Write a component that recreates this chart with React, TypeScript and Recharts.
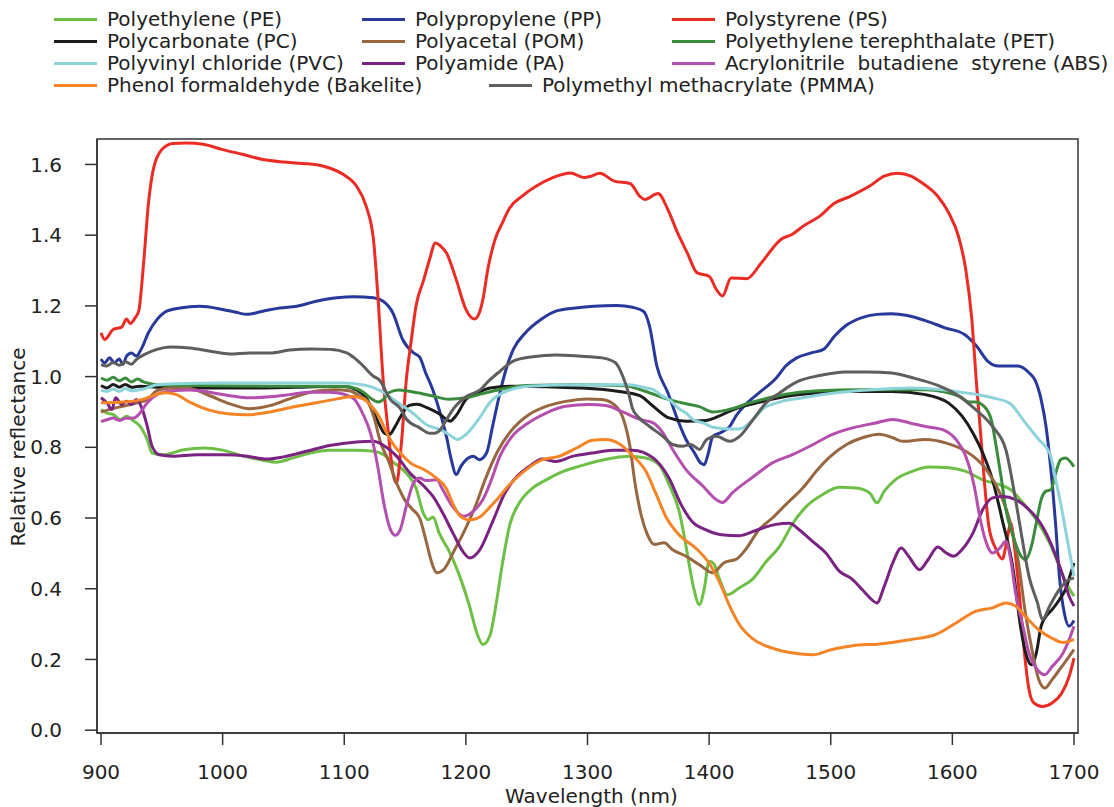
import React from 'react';
import { LineChart, Line, XAxis, YAxis, ReferenceArea, Label } from 'recharts';

type Pt = [number, number];

const wavelengthTicks = [900, 1000, 1100, 1200, 1300, 1400, 1500, 1600, 1700];
const reflectanceTicks = [0, 0.2, 0.4, 0.6, 0.8, 1.0, 1.2, 1.4, 1.6];

// [wavelength nm, relative reflectance]
const polyethylene: Pt[] = [
  [900, 0.907], [905, 0.897], [910, 0.893], [916, 0.878], [921, 0.888], [927, 0.874], [932, 0.86], [938, 0.822],
  [942, 0.784], [951, 0.779], [968, 0.793], [984, 0.798], [1000, 0.792], [1017, 0.775], [1034, 0.763], [1044, 0.758],
  [1058, 0.77], [1072, 0.784], [1088, 0.792], [1110, 0.792], [1124, 0.789], [1132, 0.78], [1140, 0.758], [1151, 0.727],
  [1159, 0.685], [1165, 0.614], [1169, 0.595], [1173, 0.603], [1178, 0.558], [1187, 0.501], [1195, 0.435], [1203, 0.351],
  [1209, 0.275], [1214, 0.242], [1220, 0.27], [1225, 0.36], [1230, 0.47], [1236, 0.58], [1244, 0.643], [1255, 0.685],
  [1266, 0.708], [1280, 0.732], [1293, 0.746], [1307, 0.76], [1321, 0.77], [1334, 0.775], [1348, 0.77], [1359, 0.75],
  [1367, 0.695], [1376, 0.61], [1381, 0.52], [1387, 0.407], [1392, 0.355], [1396, 0.4], [1400, 0.478], [1404, 0.47],
  [1408, 0.432], [1415, 0.383], [1425, 0.403], [1436, 0.428], [1447, 0.477], [1458, 0.52], [1469, 0.586], [1480, 0.633],
  [1493, 0.666], [1507, 0.687], [1521, 0.685], [1532, 0.671], [1538, 0.643], [1544, 0.676], [1553, 0.708], [1567, 0.732],
  [1581, 0.744], [1597, 0.742], [1611, 0.732], [1625, 0.708], [1639, 0.694], [1648, 0.68], [1658, 0.643], [1669, 0.595],
  [1680, 0.529], [1688, 0.463], [1695, 0.407], [1700, 0.379],
];

const polypropylene: Pt[] = [
  [900, 1.05], [903, 1.039], [907, 1.053], [911, 1.039], [915, 1.05], [918, 1.034], [921, 1.058], [925, 1.067],
  [929, 1.058], [933, 1.077], [939, 1.124], [946, 1.161], [954, 1.185], [965, 1.194], [981, 1.199], [1000, 1.19],
  [1011, 1.182], [1020, 1.176], [1033, 1.185], [1047, 1.194], [1061, 1.199], [1077, 1.213], [1094, 1.223], [1108, 1.226],
  [1124, 1.223], [1132, 1.213], [1140, 1.18], [1148, 1.105], [1157, 1.067], [1162, 1.055], [1167, 1.01], [1172, 0.97],
  [1178, 0.907], [1184, 0.831], [1188, 0.765], [1192, 0.723], [1196, 0.747], [1202, 0.77], [1206, 0.775], [1211, 0.765],
  [1217, 0.784], [1222, 0.86], [1228, 0.954], [1233, 1.02], [1239, 1.077], [1249, 1.124], [1262, 1.162], [1274, 1.185],
  [1290, 1.194], [1305, 1.199], [1324, 1.201], [1337, 1.196], [1346, 1.185], [1351, 1.143], [1357, 1.03], [1366, 0.955],
  [1375, 0.87], [1381, 0.822], [1388, 0.784], [1393, 0.756], [1396, 0.751], [1399, 0.779], [1403, 0.831], [1409, 0.841],
  [1417, 0.859], [1422, 0.888], [1430, 0.921], [1441, 0.954], [1455, 0.995], [1463, 1.03], [1472, 1.053], [1484, 1.067],
  [1494, 1.077], [1503, 1.114], [1512, 1.143], [1525, 1.166], [1538, 1.176], [1550, 1.178], [1563, 1.173], [1579, 1.157],
  [1594, 1.138], [1610, 1.119], [1620, 1.086], [1629, 1.044], [1638, 1.03], [1654, 1.03], [1663, 1.011], [1668, 0.99],
  [1673, 0.935], [1677, 0.859], [1681, 0.737], [1685, 0.577], [1688, 0.435], [1692, 0.332], [1696, 0.294], [1700, 0.31],
];

const polystyrene: Pt[] = [
  [900, 1.124], [903, 1.105], [910, 1.133], [917, 1.14], [921, 1.163], [924, 1.15], [928, 1.166], [931, 1.185],
  [935, 1.32], [939, 1.49], [943, 1.586], [950, 1.642], [959, 1.659], [970, 1.661], [984, 1.657], [1000, 1.642],
  [1017, 1.628], [1033, 1.614], [1050, 1.607], [1066, 1.603], [1083, 1.595], [1099, 1.572], [1110, 1.539], [1118, 1.482],
  [1124, 1.388], [1128, 1.21], [1132, 0.99], [1136, 0.85], [1140, 0.727], [1143, 0.699], [1147, 0.812], [1151, 0.99],
  [1155, 1.1], [1159, 1.2], [1165, 1.27], [1170, 1.33], [1175, 1.378], [1179, 1.37], [1184, 1.35], [1192, 1.275],
  [1200, 1.19], [1207, 1.163], [1211, 1.18], [1214, 1.218], [1218, 1.303], [1224, 1.388], [1230, 1.435], [1236, 1.477],
  [1246, 1.51], [1258, 1.539], [1271, 1.562], [1286, 1.576], [1297, 1.563], [1303, 1.567], [1310, 1.575], [1322, 1.553],
  [1335, 1.546], [1343, 1.51], [1347, 1.501], [1358, 1.518], [1366, 1.473], [1374, 1.407], [1382, 1.35], [1390, 1.294],
  [1400, 1.284], [1406, 1.246], [1411, 1.228], [1418, 1.279], [1431, 1.277], [1443, 1.322], [1459, 1.388], [1468, 1.402],
  [1478, 1.427], [1491, 1.454], [1503, 1.49], [1516, 1.51], [1532, 1.539], [1544, 1.567], [1555, 1.575], [1566, 1.567],
  [1575, 1.548], [1588, 1.51], [1597, 1.463], [1605, 1.397], [1611, 1.303], [1616, 1.162], [1620, 0.973], [1623, 0.85],
  [1626, 0.718], [1630, 0.577], [1636, 0.511], [1641, 0.484], [1645, 0.539], [1648, 0.586], [1651, 0.52], [1655, 0.388],
  [1659, 0.228], [1663, 0.115], [1667, 0.077], [1674, 0.067], [1682, 0.077], [1690, 0.105], [1696, 0.152], [1700, 0.204],
];

const polycarbonate: Pt[] = [
  [900, 0.975], [905, 0.968], [910, 0.978], [915, 0.97], [920, 0.978], [925, 0.97], [932, 0.973], [946, 0.97],
  [970, 0.968], [1000, 0.968], [1030, 0.968], [1060, 0.97], [1090, 0.972], [1100, 0.972], [1110, 0.962], [1118, 0.94],
  [1124, 0.9], [1128, 0.87], [1133, 0.84], [1137, 0.836], [1142, 0.86], [1146, 0.885], [1153, 0.918], [1160, 0.922],
  [1168, 0.912], [1178, 0.895], [1187, 0.874], [1192, 0.89], [1200, 0.935], [1210, 0.955], [1220, 0.968], [1239, 0.973],
  [1293, 0.968], [1326, 0.958], [1343, 0.946], [1354, 0.916], [1367, 0.883], [1381, 0.874], [1397, 0.876], [1408, 0.888],
  [1420, 0.907], [1442, 0.928], [1465, 0.945], [1490, 0.954], [1510, 0.958], [1550, 0.958], [1578, 0.949], [1597, 0.925],
  [1608, 0.888], [1617, 0.84], [1625, 0.784], [1633, 0.708], [1641, 0.595], [1650, 0.454], [1656, 0.294], [1662, 0.2],
  [1665, 0.185], [1669, 0.218], [1673, 0.294], [1677, 0.322], [1682, 0.341], [1688, 0.369], [1693, 0.398], [1697, 0.44],
  [1700, 0.473],
];

const polyacetal: Pt[] = [
  [900, 0.9], [910, 0.91], [918, 0.916], [929, 0.925], [938, 0.935], [946, 0.96], [957, 0.968], [973, 0.966],
  [988, 0.948], [1006, 0.923], [1022, 0.909], [1039, 0.918], [1055, 0.937], [1075, 0.958], [1092, 0.963], [1105, 0.959],
  [1113, 0.944], [1118, 0.935], [1124, 0.89], [1130, 0.812], [1136, 0.765], [1143, 0.699], [1150, 0.65], [1156, 0.625],
  [1162, 0.6], [1167, 0.539], [1172, 0.473], [1176, 0.445], [1182, 0.455], [1190, 0.505], [1199, 0.565], [1208, 0.635],
  [1216, 0.71], [1226, 0.788], [1238, 0.85], [1252, 0.893], [1266, 0.916], [1282, 0.93], [1299, 0.937], [1312, 0.935],
  [1324, 0.914], [1330, 0.875], [1335, 0.8], [1339, 0.7], [1344, 0.61], [1349, 0.555], [1355, 0.525], [1363, 0.53],
  [1370, 0.51], [1381, 0.492], [1392, 0.468], [1403, 0.445], [1412, 0.473], [1423, 0.485], [1430, 0.511], [1441, 0.567],
  [1452, 0.6], [1463, 0.638], [1477, 0.685], [1490, 0.74], [1500, 0.775], [1513, 0.808], [1526, 0.827], [1540, 0.837],
  [1551, 0.827], [1559, 0.817], [1578, 0.822], [1595, 0.812], [1606, 0.798], [1617, 0.775], [1628, 0.737], [1639, 0.671],
  [1647, 0.595], [1654, 0.482], [1660, 0.332], [1666, 0.218], [1671, 0.143], [1676, 0.119], [1682, 0.143], [1690, 0.18],
  [1700, 0.228],
];

const polyethyleneTerephthalate: Pt[] = [
  [900, 0.996], [905, 0.99], [910, 0.998], [915, 0.988], [920, 0.996], [925, 0.985], [930, 0.993], [935, 0.985],
  [938, 0.982], [946, 0.977], [980, 0.975], [1040, 0.973], [1100, 0.972], [1110, 0.966], [1116, 0.955], [1122, 0.938],
  [1128, 0.928], [1132, 0.935], [1137, 0.955], [1145, 0.962], [1159, 0.955], [1173, 0.945], [1186, 0.936], [1200, 0.94],
  [1214, 0.952], [1227, 0.963], [1250, 0.975], [1293, 0.977], [1330, 0.974], [1348, 0.958], [1365, 0.937], [1381, 0.923],
  [1392, 0.915], [1403, 0.9], [1414, 0.905], [1436, 0.928], [1463, 0.95], [1490, 0.96], [1523, 0.963], [1578, 0.963],
  [1606, 0.944], [1614, 0.928], [1619, 0.928], [1626, 0.916], [1632, 0.878], [1636, 0.803], [1640, 0.718], [1644, 0.624],
  [1650, 0.548], [1655, 0.501], [1660, 0.482], [1665, 0.52], [1669, 0.586], [1673, 0.652], [1677, 0.676], [1681, 0.68],
  [1685, 0.728], [1689, 0.765], [1693, 0.77], [1700, 0.745],
];

const polyvinylChloride: Pt[] = [
  [900, 0.961], [905, 0.958], [910, 0.965], [915, 0.958], [920, 0.966], [925, 0.96], [935, 0.965], [946, 0.977],
  [960, 0.98], [1000, 0.982], [1050, 0.982], [1100, 0.982], [1118, 0.975], [1130, 0.96], [1137, 0.944], [1146, 0.922],
  [1157, 0.895], [1168, 0.863], [1179, 0.85], [1187, 0.834], [1193, 0.822], [1200, 0.836], [1211, 0.882], [1220, 0.928],
  [1233, 0.958], [1252, 0.973], [1293, 0.977], [1334, 0.977], [1348, 0.968], [1354, 0.963], [1362, 0.944], [1367, 0.935],
  [1376, 0.907], [1381, 0.897], [1387, 0.878], [1395, 0.869], [1403, 0.857], [1417, 0.852], [1425, 0.852], [1436, 0.878],
  [1444, 0.908], [1458, 0.928], [1477, 0.94], [1500, 0.952], [1530, 0.962], [1565, 0.968], [1592, 0.963], [1611, 0.954],
  [1633, 0.94], [1647, 0.925], [1660, 0.869], [1671, 0.822], [1680, 0.784], [1685, 0.708], [1690, 0.624], [1695, 0.529],
  [1700, 0.435],
];

const polyamide: Pt[] = [
  [900, 0.94], [905, 0.925], [909, 0.907], [912, 0.94], [917, 0.921], [921, 0.93], [925, 0.921], [929, 0.935],
  [934, 0.907], [938, 0.86], [942, 0.803], [948, 0.779], [959, 0.775], [979, 0.779], [1001, 0.779], [1020, 0.775],
  [1036, 0.767], [1050, 0.773], [1069, 0.789], [1088, 0.805], [1110, 0.815], [1124, 0.817], [1132, 0.806], [1143, 0.775],
  [1154, 0.727], [1165, 0.692], [1173, 0.661], [1181, 0.614], [1190, 0.553], [1198, 0.503], [1203, 0.487], [1211, 0.508],
  [1222, 0.59], [1232, 0.67], [1240, 0.71], [1252, 0.746], [1263, 0.767], [1274, 0.76], [1288, 0.775], [1304, 0.784],
  [1321, 0.792], [1337, 0.792], [1354, 0.77], [1367, 0.713], [1377, 0.638], [1386, 0.59], [1397, 0.567], [1410, 0.553],
  [1425, 0.55], [1440, 0.567], [1455, 0.582], [1466, 0.585], [1474, 0.567], [1485, 0.534], [1496, 0.501], [1507, 0.45],
  [1518, 0.426], [1526, 0.397], [1532, 0.375], [1538, 0.36], [1544, 0.407], [1551, 0.473], [1558, 0.515], [1564, 0.492],
  [1573, 0.454], [1580, 0.482], [1588, 0.518], [1595, 0.501], [1601, 0.492], [1608, 0.511], [1617, 0.558], [1625, 0.624],
  [1633, 0.657], [1641, 0.661], [1652, 0.652], [1663, 0.624], [1674, 0.577], [1682, 0.52], [1691, 0.435], [1696, 0.379],
  [1700, 0.351],
];

const acrylonitrileButadieneStyrene: Pt[] = [
  [900, 0.873], [905, 0.878], [910, 0.883], [915, 0.876], [920, 0.882], [927, 0.883], [932, 0.897], [938, 0.926],
  [946, 0.949], [957, 0.959], [973, 0.962], [989, 0.956], [1006, 0.946], [1022, 0.94], [1039, 0.943], [1055, 0.949],
  [1072, 0.956], [1088, 0.956], [1100, 0.95], [1108, 0.937], [1115, 0.897], [1122, 0.835], [1128, 0.737], [1132, 0.652],
  [1138, 0.567], [1142, 0.551], [1146, 0.567], [1151, 0.633], [1157, 0.699], [1162, 0.713], [1167, 0.706], [1176, 0.708],
  [1181, 0.68], [1189, 0.633], [1198, 0.605], [1206, 0.619], [1214, 0.652], [1220, 0.699], [1228, 0.775], [1238, 0.831],
  [1250, 0.866], [1266, 0.897], [1282, 0.916], [1301, 0.921], [1315, 0.918], [1329, 0.9], [1343, 0.879], [1354, 0.869],
  [1362, 0.841], [1370, 0.794], [1381, 0.737], [1395, 0.69], [1406, 0.652], [1411, 0.644], [1419, 0.671], [1436, 0.716],
  [1452, 0.756], [1469, 0.78], [1485, 0.807], [1501, 0.836], [1518, 0.855], [1537, 0.869], [1551, 0.879], [1565, 0.869],
  [1578, 0.859], [1592, 0.85], [1603, 0.822], [1611, 0.775], [1618, 0.69], [1623, 0.595], [1629, 0.52], [1633, 0.501],
  [1639, 0.515], [1644, 0.534], [1648, 0.482], [1652, 0.388], [1658, 0.294], [1663, 0.218], [1670, 0.171], [1676, 0.157],
  [1682, 0.18], [1691, 0.218], [1696, 0.256], [1700, 0.294],
];

const phenolFormaldehyde: Pt[] = [
  [900, 0.926], [918, 0.928], [929, 0.932], [938, 0.94], [946, 0.95], [954, 0.954], [962, 0.949], [973, 0.928],
  [989, 0.905], [1006, 0.894], [1020, 0.892], [1039, 0.9], [1055, 0.912], [1077, 0.926], [1094, 0.937], [1107, 0.944],
  [1115, 0.938], [1122, 0.918], [1129, 0.885], [1135, 0.84], [1140, 0.81], [1148, 0.777], [1156, 0.752], [1164, 0.74],
  [1175, 0.715], [1184, 0.683], [1189, 0.643], [1195, 0.607], [1203, 0.595], [1211, 0.602], [1219, 0.628], [1225, 0.65],
  [1236, 0.695], [1247, 0.73], [1261, 0.762], [1277, 0.775], [1291, 0.798], [1304, 0.82], [1315, 0.822], [1326, 0.81],
  [1337, 0.777], [1348, 0.732], [1356, 0.671], [1365, 0.6], [1376, 0.55], [1389, 0.515], [1400, 0.472], [1409, 0.415],
  [1417, 0.35], [1425, 0.298], [1436, 0.258], [1452, 0.232], [1469, 0.218], [1485, 0.213], [1501, 0.228], [1518, 0.239],
  [1540, 0.244], [1565, 0.256], [1586, 0.27], [1603, 0.303], [1619, 0.336], [1633, 0.346], [1644, 0.36], [1652, 0.351],
  [1660, 0.322], [1671, 0.284], [1682, 0.26], [1691, 0.248], [1700, 0.257],
];

const polymethylMethacrylate: Pt[] = [
  [900, 1.034], [905, 1.03], [910, 1.04], [915, 1.032], [920, 1.042], [925, 1.035], [929, 1.048], [936, 1.063],
  [946, 1.077], [957, 1.084], [973, 1.081], [990, 1.072], [1006, 1.064], [1022, 1.067], [1039, 1.067], [1055, 1.075],
  [1072, 1.078], [1088, 1.077], [1102, 1.067], [1113, 1.039], [1124, 1.001], [1129, 0.99], [1138, 0.935], [1146, 0.91],
  [1151, 0.88], [1162, 0.855], [1170, 0.84], [1174, 0.84], [1179, 0.85], [1184, 0.878], [1190, 0.91], [1201, 0.945],
  [1212, 0.963], [1218, 0.985], [1228, 1.015], [1239, 1.044], [1255, 1.056], [1274, 1.061], [1293, 1.058], [1312, 1.053],
  [1323, 1.039], [1329, 1.001], [1334, 0.95], [1337, 0.91], [1342, 0.885], [1351, 0.859], [1362, 0.831], [1370, 0.808],
  [1378, 0.803], [1385, 0.808], [1392, 0.794], [1398, 0.822], [1406, 0.831], [1417, 0.817], [1425, 0.831], [1436, 0.878],
  [1447, 0.926], [1458, 0.954], [1472, 0.985], [1491, 1.003], [1512, 1.013], [1531, 1.013], [1550, 1.01], [1569, 0.995],
  [1588, 0.975], [1604, 0.948], [1619, 0.907], [1633, 0.859], [1644, 0.793], [1651, 0.671], [1658, 0.529], [1663, 0.435],
  [1670, 0.36], [1674, 0.313], [1680, 0.351], [1688, 0.398], [1696, 0.426], [1700, 0.43],
];

const series = [
  { key: 'PE', name: 'Polyethylene (PE)', color: '#6dbf45', points: polyethylene },
  { key: 'PP', name: 'Polypropylene (PP)', color: '#27399a', points: polypropylene },
  { key: 'PS', name: 'Polystyrene (PS)', color: '#ec2b24', points: polystyrene },
  { key: 'PC', name: 'Polycarbonate (PC)', color: '#1c1c1c', points: polycarbonate },
  { key: 'POM', name: 'Polyacetal (POM)', color: '#98673f', points: polyacetal },
  { key: 'PET', name: 'Polyethylene terephthalate (PET)', color: '#3b8b3d', points: polyethyleneTerephthalate },
  { key: 'PVC', name: 'Polyvinyl chloride (PVC)', color: '#8dd3da', points: polyvinylChloride },
  { key: 'PA', name: 'Polyamide (PA)', color: '#7b2382', points: polyamide },
  { key: 'ABS', name: 'Acrylonitrile  butadiene  styrene (ABS)', color: '#b54fae', points: acrylonitrileButadieneStyrene },
  { key: 'BAK', name: 'Phenol formaldehyde (Bakelite)', color: '#f58426', points: phenolFormaldehyde },
  { key: 'PMMA', name: 'Polymethyl methacrylate (PMMA)', color: '#5e5e5e', points: polymethylMethacrylate },
];

// legend slot (line start x, row centre y) for each series, in legend order
const legendSlots = [
  [54, 19], [362, 19], [672, 19],
  [54, 41], [362, 41], [672, 41],
  [54, 63], [362, 63], [672, 63],
  [54, 85], [489, 85],
];

const FONT = '"DejaVu Sans", Verdana, sans-serif';
const INK = '#222';
const FRAME = '#333';
const X_DOMAIN: [number, number] = [896.7, 1703.3];
const Y_DOMAIN: [number, number] = [-0.008, 1.672];

function ChartLegend() {
  return (
    <>
      {series.map((s, i) => {
        const [x, y] = legendSlots[i];
        return (
          <div
            key={s.key}
            style={{
              position: 'absolute',
              left: x,
              top: y - 10,
              height: 20,
              lineHeight: '20px',
              display: 'flex',
              alignItems: 'center',
              fontFamily: FONT,
              fontSize: 20,
              color: INK,
              whiteSpace: 'pre',
            }}
          >
            <div style={{ width: 43, height: 3, background: s.color, marginRight: 10 }} />
            <span>{s.name}</span>
          </div>
        );
      })}
    </>
  );
}

export default function App() {
  return (
    <div style={{ position: 'relative', width: 1114, height: 807, background: '#fff' }}>
      <style>{'body{margin:0;}'}</style>
      <ChartLegend />
      <LineChart width={1114} height={807} margin={{ top: 139, right: 36, bottom: 0, left: 0 }}>
        <XAxis
          type="number"
          dataKey="x"
          domain={X_DOMAIN}
          ticks={wavelengthTicks}
          allowDataOverflow
          height={74}
          tickSize={12}
          tickMargin={20}
          axisLine={{ stroke: FRAME, strokeWidth: 1.5 }}
          tickLine={{ stroke: FRAME, strokeWidth: 1.5 }}
          tick={{ fill: INK, fontSize: 20, fontFamily: FONT }}
        >
          <Label
            content={({ viewBox }: any) => (
              <text
                x={viewBox.x + viewBox.width / 2 + 4}
                y={803}
                textAnchor="middle"
                fill={INK}
                fontSize={20}
                fontFamily={FONT}
              >
                Wavelength (nm)
              </text>
            )}
          />
        </XAxis>
        <YAxis
          type="number"
          dataKey="y"
          domain={Y_DOMAIN}
          ticks={reflectanceTicks}
          allowDataOverflow
          width={97}
          tickSize={12}
          tickMargin={23}
          tickFormatter={(v: number) => v.toFixed(1)}
          axisLine={{ stroke: FRAME, strokeWidth: 1.5 }}
          tickLine={{ stroke: FRAME, strokeWidth: 1.5 }}
          tick={{ fill: INK, fontSize: 20, fontFamily: FONT }}
        >
          <Label
            content={({ viewBox }: any) => {
              const cx = 18;
              const cy = viewBox.y + viewBox.height / 2 + 11;
              return (
                <text
                  x={cx}
                  y={cy}
                  transform={`rotate(-90 ${cx} ${cy})`}
                  textAnchor="middle"
                  dominantBaseline="central"
                  fill={INK}
                  fontSize={20}
                  fontFamily={FONT}
                >
                  Relative reflectance
                </text>
              );
            }}
          />
        </YAxis>
        <ReferenceArea
          x1={X_DOMAIN[0]}
          x2={X_DOMAIN[1]}
          y1={Y_DOMAIN[0]}
          y2={Y_DOMAIN[1]}
          fill="none"
          stroke={FRAME}
          strokeWidth={1.5}
          ifOverflow="visible"
        />
        {series.map((s) => (
          <Line
            key={s.key}
            data={s.points.map(([x, y]) => ({ x, y }))}
            dataKey="y"
            name={s.name}
            type="monotone"
            stroke={s.color}
            strokeWidth={3}
            dot={false}
            activeDot={false}
            isAnimationActive={false}
          />
        ))}
      </LineChart>
    </div>
  );
}
